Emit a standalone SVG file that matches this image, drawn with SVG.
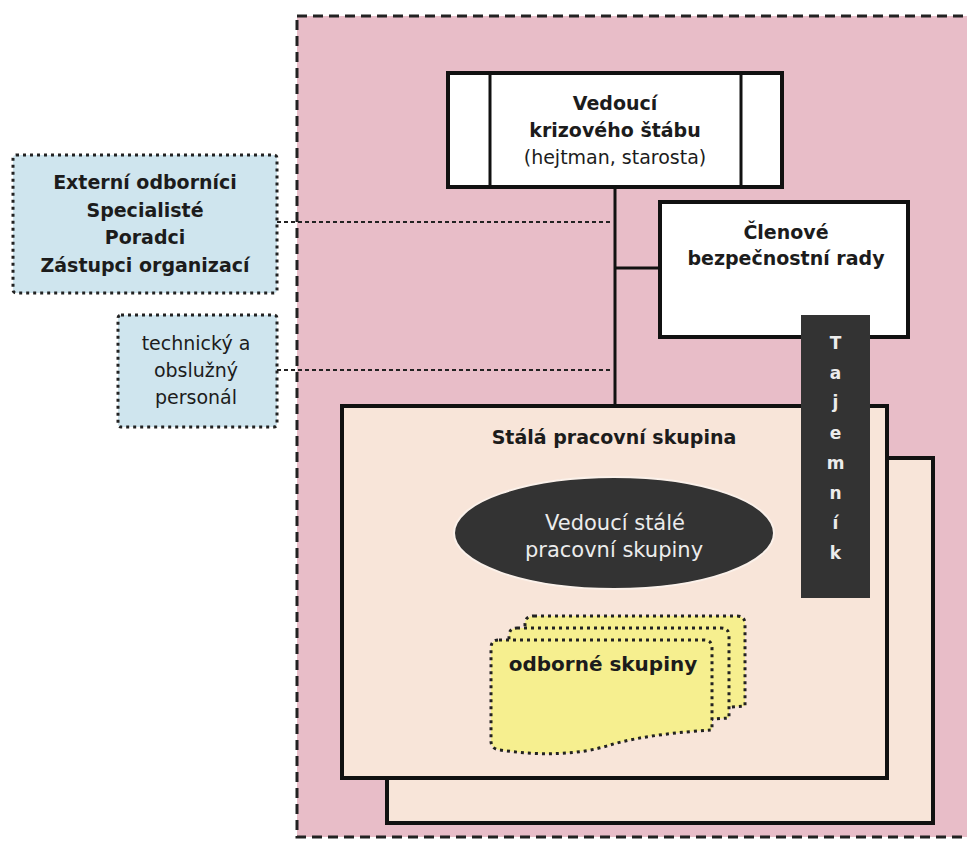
<svg xmlns="http://www.w3.org/2000/svg" width="967" height="845" viewBox="0 0 967 845">
<style>
text{font-family:"DejaVu Sans","Liberation Sans",sans-serif;font-size:19px;fill:#1c1c1c;text-anchor:middle}
.b{font-weight:bold}
.w{fill:#ececec}
.box{fill:#ffffff;stroke:#111;stroke-width:4}
.ext{fill:#cfe5ee;stroke:#222;stroke-width:3;stroke-dasharray:3 4}
.grp{fill:#f8e5d9;stroke:#111;stroke-width:4}
.yel{fill:#f6ef8f;stroke:#222;stroke-width:3;stroke-dasharray:3 4}
.conn{stroke:#111;stroke-width:3;fill:none}
.dot{stroke:#222;stroke-width:2;stroke-dasharray:4 3;fill:none}
</style>
<rect width="967" height="845" fill="#ffffff"/>
<g id="frame">
<rect x="297" y="16" width="690" height="821" fill="#e8bdc8" stroke="#222" stroke-width="3" stroke-dasharray="10 6"/>
</g>
<g id="connectors">
<line class="conn" x1="615" y1="187" x2="615" y2="406"/>
<line class="conn" x1="615" y1="268" x2="660" y2="268"/>
<line class="dot" x1="277" y1="222" x2="613" y2="222"/>
<line class="dot" x1="277" y1="370" x2="613" y2="370"/>
</g>
<g id="vedouci">
<rect class="box" x="448" y="73" width="334" height="114"/>
<line class="conn" x1="490" y1="73" x2="490" y2="187"/>
<line class="conn" x1="741" y1="73" x2="741" y2="187"/>
<text class="b" x="615" y="110">Vedoucí</text>
<text class="b" x="615" y="137">krizového štábu</text>
<text x="615" y="164">(hejtman, starosta)</text>
</g>
<g id="clenove">
<rect class="box" x="660" y="202" width="248" height="135"/>
<text class="b" x="786" y="239">Členové</text>
<text class="b" x="786" y="265">bezpečnostní rady</text>
</g>
<g id="externi">
<rect class="ext" x="13" y="155" width="264" height="138" rx="3"/>
<text class="b" x="145" y="189">Externí odborníci</text>
<text class="b" x="145" y="217">Specialisté</text>
<text class="b" x="145" y="244">Poradci</text>
<text class="b" x="145" y="272">Zástupci organizací</text>
</g>
<g id="technicky">
<rect class="ext" x="118" y="315" width="159" height="112" rx="3"/>
<text x="196" y="350">technický a</text>
<text x="196" y="377">obslužný</text>
<text x="196" y="404">personál</text>
</g>
<g id="stala">
<rect class="grp" x="387" y="458" width="546" height="365"/>
<rect class="grp" x="342" y="406" width="545" height="372"/>
<text class="b" x="614" y="444">Stálá pracovní skupina</text>
</g>
<g id="vedouci-stale">
<ellipse cx="614" cy="533" rx="160" ry="56" fill="#333333" stroke="#fbf1ea" stroke-width="2"/>
<text class="w" x="615" y="530" style="font-size:21px">Vedoucí stálé</text>
<text class="w" x="614" y="557" style="font-size:21px">pracovní skupiny</text>
</g>
<g id="odborne">
<path class="yel" d="M534,616 H737 Q745,616 745,624 V706 C713,708 673,712 643,721 C613,731 573,732 533,726 Q525,725 525,717 V624 Q525,616 534,616 Z"/>
<path class="yel" d="M517,628 H721 Q729,628 729,636 V718 C697,720 657,724 627,733 C597,743 557,744 517,738 Q509,737 509,729 V636 Q509,628 517,628 Z"/>
<path class="yel" d="M499,640 H704 Q712,640 712,648 V730 C680,732 640,736 610,745 C580,755 540,756 500,750 Q491,749 491,741 V648 Q491,640 499,640 Z"/>
<text class="b" x="603" y="671" style="font-size:20px">odborné skupiny</text>
</g>
<g id="tajemnik">
<rect x="801" y="315" width="69" height="283" fill="#333333"/>
<text class="w b" x="835.5" y="349" style="font-size:17px">T</text>
<text class="w b" x="835.5" y="379" style="font-size:17px">a</text>
<text class="w b" x="835.5" y="408" style="font-size:17px">j</text>
<text class="w b" x="835.5" y="439" style="font-size:17px">e</text>
<text class="w b" x="835.5" y="469" style="font-size:17px">m</text>
<text class="w b" x="835.5" y="499" style="font-size:17px">n</text>
<text class="w b" x="835.5" y="529" style="font-size:17px">í</text>
<text class="w b" x="835.5" y="559" style="font-size:17px">k</text>
</g>
</svg>
